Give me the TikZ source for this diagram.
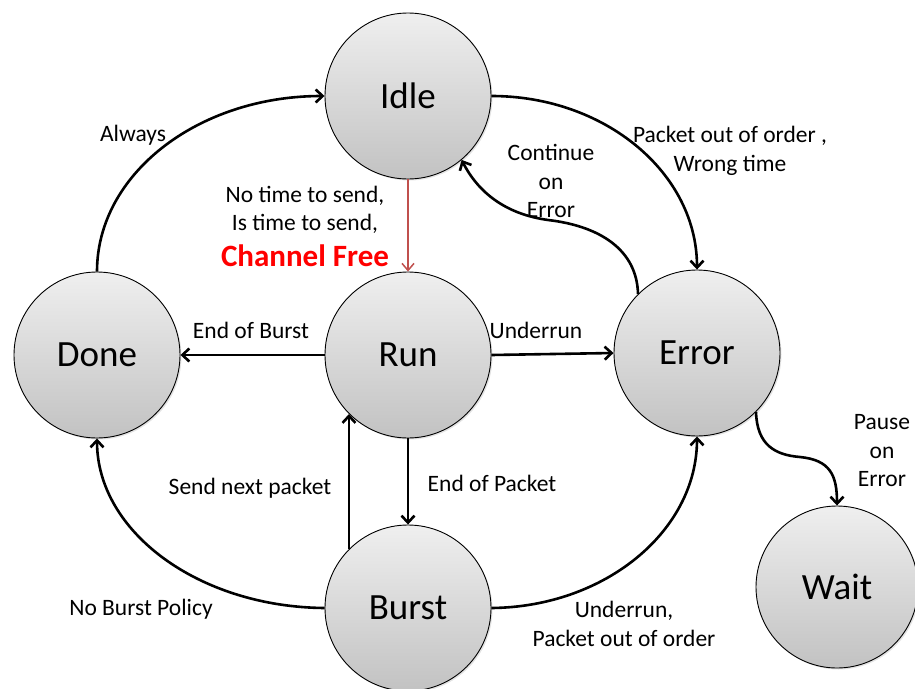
\documentclass[tikz,border=0pt]{standalone}
\usepackage{fontspec}
\setmainfont{Carlito}
\usetikzlibrary{arrows.meta,shadows}

\definecolor{ballTop}{HTML}{EFEFEF}
\definecolor{ballBot}{HTML}{C2C2C2}
\definecolor{linkRed}{HTML}{C0504D}
\definecolor{freeRed}{HTML}{FF0000}

\tikzset{
  state/.style={circle, draw=black, line width=0.9pt, minimum size=166pt,
    inner sep=0pt, top color=ballTop, bottom color=ballBot,
    drop shadow={shadow xshift=1.5pt, shadow yshift=-1.5pt, opacity=0.22},
    font=\fontsize{37}{42}\selectfont},
  link/.style={line width=2.6pt, -{Straight Barb[length=7pt,width=13pt]}},
  redlink/.style={line width=1.5pt, draw=linkRed, -{Straight Barb[length=7pt,width=12pt]}},
  tag/.style={align=center, inner sep=0pt, font=\fontsize{23.5}{28.5}\selectfont}
}

\begin{document}
\begin{tikzpicture}[x=1pt, y=-1pt]
  \useasboundingbox (0,0) rectangle (915,688);

  % states
  \node[state] (idle)  at (408,96)  {Idle};
  \node[state] (run)   at (408,355) {Run};
  \node[state] (done)  at (97,355)  {Done};
  \node[state] (error) at (697,353) {Error};
  \node[state] (burst) at (408,608) {Burst};
  \node[state, minimum size=162pt] (wait) at (837,587) {Wait};

  % transitions
  \draw[link] (done.north) .. controls (97,174) and (198,96) .. (idle.west);
  \draw[link] (idle.east) .. controls (605,96) and (697,173) .. (error.north);
  \draw[link] (error.135) .. controls (637,250) and (600,226) .. (548,220)
                          .. controls (505,214) and (478,192) .. (idle.-50);
  \draw[redlink] (idle.south) -- (run.north);
  \draw[link] (run.west) -- (done.east);
  \draw[link] (run.east) -- (error.west);
  \draw[link] (run.south) -- (burst.north);
  \draw[link] (burst.135) -- (run.-135);
  \draw[link] (burst.west) .. controls (199,607) and (97,532) .. (done.south);
  \draw[link] (burst.east) .. controls (605,607) and (697,531) .. (error.south);
  \draw[link] (error.-45) .. controls (757,445) and (775,455) .. (800,457)
                          .. controls (830,460) and (837,475) .. (wait.north);

  % transition labels
  \node[tag] (lAlways) at (133,135) {Always};
  \node[tag] (lOrder)  at (730,151) {Packet out of order ,\\Wrong time};
  \node[tag] (lCont)   at (551,181) {Continue\\on\\Error};
  \node[tag] (lSend)   at (305,226) {No time to send,\\ Is time to send,\\[7pt]
    {\fontsize{31}{34}\selectfont\bfseries\color{freeRed}Channel Free}};
  \node[tag] (lBurst)  at (251,330) {End of Burst};
  \node[tag] (lUnder)  at (536,330) {Underrun};
  \node[tag] (lPacket) at (492,483) {End of Packet};
  \node[tag] (lNext)   at (250,488) {Send next packet};
  \node[tag] (lPolicy) at (141,609) {No Burst Policy};
  \node[tag] (lUnder2) at (624,624) {Underrun,\\Packet out of order};
  \node[tag] (lPause)  at (882,451) {Pause\\on\\Error};
\end{tikzpicture}
\end{document}
